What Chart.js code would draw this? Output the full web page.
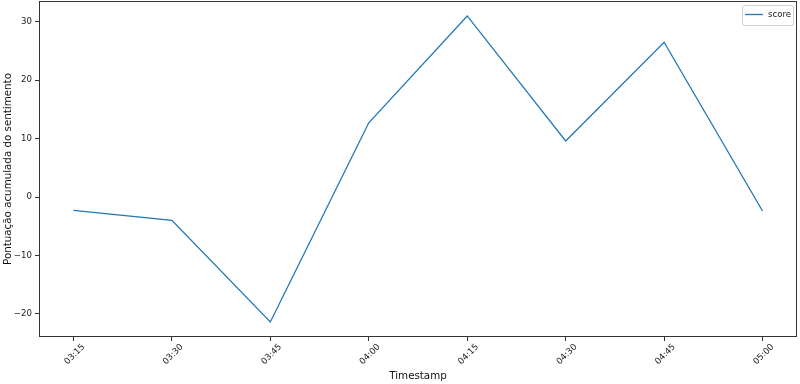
<!DOCTYPE html>
<html lang="en">
<head>
    <meta charset="UTF-8">
    <title>Pontuação acumulada do sentimento</title>
    <script src="https://cdn.jsdelivr.net/npm/chart.js@4"></script>
    <style>
        html, body { margin: 0; padding: 0; background: #fff; }
    </style>
</head>
<body>
    <canvas id="scoreChart" width="800" height="384"></canvas>

    <script>
        const timeLabels = ["03:15", "03:30", "03:45", "04:00", "04:15", "04:30", "04:45", "05:00"];
        const scoreValues = [-2.3, -4.0, -21.4, 12.7, 31.0, 9.6, 26.5, -2.4];
        const yTicks = [-20, -10, 0, 10, 20, 30];

        const FONT = "'DejaVu Sans', sans-serif";
        const LINE = "#1f77b4";

        // frame around the plot area (matplotlib spines)
        const framePlugin = {
            id: "frame",
            afterDraw(chart) {
                const { ctx, chartArea: a } = chart;
                ctx.save();
                ctx.strokeStyle = "#333";
                ctx.lineWidth = 1;
                ctx.strokeRect(a.left + 0.5, a.top + 0.5, a.right - a.left - 1, a.bottom - a.top - 1);
                ctx.restore();
            }
        };

        // legend box in the upper right corner
        const legendBox = {
            id: "legendBox",
            afterDraw(chart) {
                const { ctx, chartArea: a } = chart;
                const ds = chart.data.datasets[0];
                const w = 51, h = 20;
                const x = a.right - w - 4, y = a.top + 4;
                ctx.save();
                ctx.fillStyle = "rgba(255,255,255,0.8)";
                ctx.strokeStyle = "#d0d0d0";
                ctx.lineWidth = 1;
                ctx.beginPath();
                ctx.roundRect(x + 0.5, y + 0.5, w, h, 2);
                ctx.fill();
                ctx.stroke();
                ctx.strokeStyle = ds.borderColor;
                ctx.lineWidth = 1.3;
                ctx.beginPath();
                ctx.moveTo(x + 3, y + 9.5);
                ctx.lineTo(x + 21, y + 9.5);
                ctx.stroke();
                ctx.fillStyle = "#222";
                ctx.font = "8.6px " + FONT;
                ctx.textBaseline = "middle";
                ctx.fillText(ds.label, x + 26, y + 10);
                ctx.restore();
            }
        };

        const points = scoreValues.map((v, i) => ({ x: i, y: v }));

        new Chart(document.getElementById("scoreChart"), {
            type: "line",
            data: {
                datasets: [{
                    label: "score",
                    data: points,
                    borderColor: LINE,
                    borderWidth: 1.3,
                    pointRadius: 0,
                    tension: 0,
                    fill: false
                }]
            },
            options: {
                responsive: false,
                animation: false,
                layout: { padding: { top: 1, right: 3, left: 0, bottom: 0 } },
                plugins: {
                    legend: { display: false },
                    tooltip: { enabled: false }
                },
                scales: {
                    x: {
                        type: "linear",
                        min: -0.35,
                        max: timeLabels.length - 1 + 0.35,
                        afterFit: s => { s.height = 47; s.paddingLeft = 0; s.paddingRight = 0; },
                        border: { display: false },
                        grid: { drawOnChartArea: false, drawTicks: true, tickLength: 4, color: "#333" },
                        ticks: {
                            stepSize: 1,
                            includeBounds: false,
                            autoSkip: false,
                            minRotation: 45,
                            maxRotation: 45,
                            labelOffset: 10,
                            padding: 1,
                            color: "#222",
                            font: { family: FONT, size: 8.6 },
                            callback: v => timeLabels[v] ?? ""
                        },
                        title: {
                            display: true,
                            text: "Timestamp",
                            color: "#111",
                            font: { family: FONT, size: 10.3 },
                            padding: { top: 0, bottom: 1 }
                        }
                    },
                    y: {
                        min: -23.97,
                        max: 33.56,
                        afterFit: s => { s.width = 39; s.paddingTop = 0; s.paddingBottom = 0; },
                        afterBuildTicks: s => { s.ticks = yTicks.map(v => ({ value: v })); },
                        border: { display: false },
                        grid: { drawOnChartArea: false, drawTicks: true, tickLength: 4, color: "#333" },
                        ticks: {
                            stepSize: 10,
                            includeBounds: false,
                            padding: 3,
                            color: "#222",
                            font: { family: FONT, size: 8.6 },
                            callback: v => (v < 0 ? "\u2212" + Math.abs(v) : String(v))
                        },
                        title: {
                            display: true,
                            text: "Pontuação acumulada do sentimento",
                            color: "#111",
                            font: { family: FONT, size: 10.3 },
                            padding: { top: 2, bottom: 0 }
                        }
                    }
                }
            },
            plugins: [framePlugin, legendBox]
        });
    </script>
</body>
</html>
